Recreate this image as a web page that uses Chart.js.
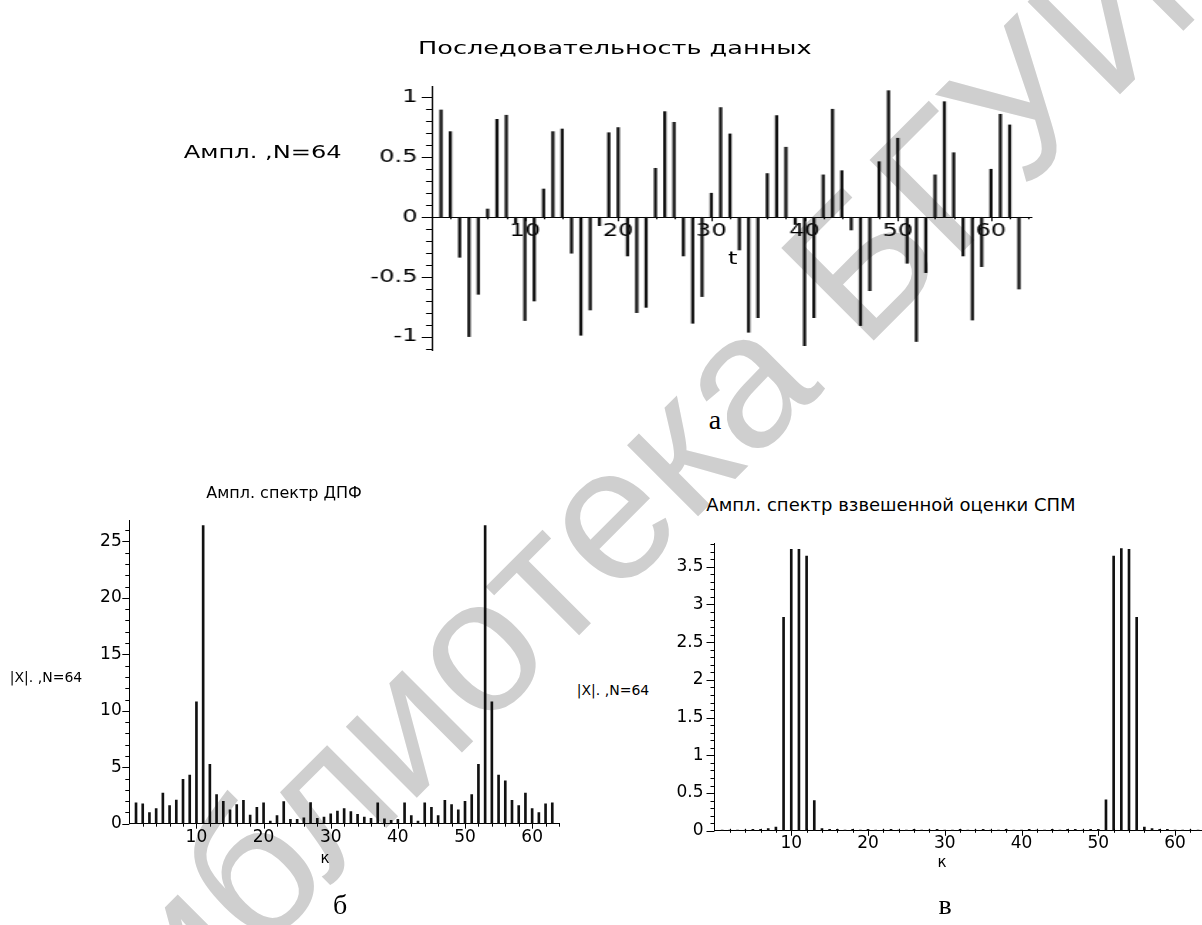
<!DOCTYPE html>
<html>
<head>
<meta charset="utf-8">
<script src="https://cdn.jsdelivr.net/npm/chart.js@4.4.1/dist/chart.umd.min.js"></script>
<style>
  html, body { margin: 0; padding: 0; background: #fff; width: 1202px; height: 925px; overflow: hidden; }
  #page { position: relative; width: 1202px; height: 925px; overflow: hidden; }
  canvas { position: absolute; }
  .c { position: absolute; transform: translate(-50%, -50%); white-space: nowrap; line-height: 1;
       font-family: "DejaVu Sans", sans-serif; color: #000; }
  .cap { font-family: "Liberation Serif", serif; font-size: 28px; }
  #wm { position: absolute; left: 654px; top: 467px; transform: translate(-50%, -50%) rotate(-45deg);
        font: 190px "Liberation Sans", sans-serif; color: #cfcfcf; line-height: 1; white-space: nowrap; }
  /* the top plot is horizontally stretched in the original scan */
  #top { position: absolute; left: 0; top: 0; width: 847px; height: 380px;
         transform: scaleX(1.42); transform-origin: 0 0; }
</style>
</head>
<body>
<div id="page">
  <div id="wm">библиотека БГУИР</div>

  <div id="top">
    <canvas id="seq" width="540" height="308" style="left:204px;top:64px"></canvas>
    <div class="c" style="left:433px;top:48px;font-size:18px">Последовательность данных</div>
    <div class="c" style="left:185px;top:152px;font-size:17px">Ампл. ,N=64</div>
    <div class="c" style="left:516px;top:258px;font-size:17px">t</div>
  </div>
  <div class="c cap" style="left:715px;top:420px">а</div>

  <canvas id="dft" width="520" height="364" style="left:50px;top:496px"></canvas>
  <div class="c" style="left:284px;top:493px;font-size:16px">Ампл. спектр ДПФ</div>
  <div class="c" style="left:46px;top:677px;font-size:14px">|X|. ,N=64</div>
  <div class="c" style="left:325px;top:858px;font-size:15px">к</div>
  <div class="c cap" style="left:340px;top:905px">б</div>

  <canvas id="psd" width="570" height="346" style="left:650px;top:519px"></canvas>
  <div class="c" style="left:891px;top:505px;font-size:18px">Ампл. спектр взвешенной оценки СПМ</div>
  <div class="c" style="left:613px;top:690px;font-size:14px">|X|. ,N=64</div>
  <div class="c" style="left:942px;top:862px;font-size:15px">к</div>
  <div class="c cap" style="left:945px;top:905px">в</div>
</div>

<script>
// sample / bin index
const tIdx = [1, 2, 3, 4, 5, 6, 7, 8, 9, 10, 11, 12, 13, 14, 15, 16, 17, 18, 19, 20,
  21, 22, 23, 24, 25, 26, 27, 28, 29, 30, 31, 32, 33, 34, 35, 36, 37, 38, 39, 40,
  41, 42, 43, 44, 45, 46, 47, 48, 49, 50, 51, 52, 53, 54, 55, 56, 57, 58, 59, 60,
  61, 62, 63]
const kIdx = tIdx

// data sequence, N=64
const seqValues = [
  0.896, 0.715, -0.334, -0.996, -0.643, 0.069, 0.818, 0.852, -0.05, -0.862,
  -0.699, 0.236, 0.715, 0.737, -0.300, -0.985, -0.774, -0.07, 0.706, 0.749,
  -0.323, -0.796, -0.752, 0.409, 0.882, 0.793, -0.323, -0.885, -0.662, 0.201,
  0.916, 0.696, -0.273, -0.960, -0.838, 0.365, 0.849, 0.585, -0.06, -1.072,
  -0.838, 0.354, 0.902, 0.389, -0.106, -0.904, -0.613, 0.464, 1.057, 0.660,
  -0.384, -1.037, -0.462, 0.354, 0.965, 0.539, -0.323, -0.858, -0.412, 0.401,
  0.860, 0.771, -0.599
]

// |X| of the DFT
const dftValues = [
  1.84, 1.75, 0.99, 1.34, 2.71, 1.60, 2.10, 3.94, 4.31, 10.8,
  26.4, 5.25, 2.57, 1.98, 1.22, 1.69, 2.07, 0.76, 1.46, 1.84,
  0.23, 0.73, 1.95, 0.38, 0.38, 0.52, 1.87, 0.47, 0.58, 0.87,
  1.11, 1.34, 1.08, 0.82, 0.58, 0.47, 1.84, 0.44, 0.29, 0.38,
  1.84, 0.73, 0.23, 1.84, 1.46, 0.73, 2.07, 1.69, 1.22, 1.98,
  2.57, 5.25, 26.4, 10.8, 4.31, 3.79, 2.07, 1.60, 2.71, 1.34,
  0.99, 1.75, 1.84
]

// weighted PSD estimate
const psdValues = [
  0.01, 0.01, 0.01, 0.01, 0.02, 0.02, 0.03, 0.05, 2.83, 3.73,
  3.73, 3.64, 0.40, 0.03, 0.02, 0.02, 0.01, 0.02, 0.01, 0.02,
  0.01, 0.01, 0.02, 0.01, 0.01, 0.02, 0.01, 0.01, 0.02, 0.01,
  0.01, 0.02, 0.01, 0.01, 0.02, 0.01, 0.01, 0.02, 0.01, 0.01,
  0.02, 0.01, 0.01, 0.02, 0.01, 0.02, 0.02, 0.01, 0.02, 0.02,
  0.41, 3.64, 3.74, 3.73, 2.83, 0.05, 0.03, 0.02, 0.02, 0.01,
  0.01, 0.01, 0.01
]

const xTicks = [10, 20, 30, 40, 50, 60]
const seqYTicks = [-1, -0.5, 0, 0.5, 1]
const dftYTicks = [0, 5, 10, 15, 20, 25]
const psdYTicks = [0, 0.5, 1, 1.5, 2, 2.5, 3, 3.5]

// maple style tick marks: long/short marks on both axes, axes crossing at origin
const stemAxes = {
  id: 'stemAxes',
  afterDraw(chart, args, o) {
    const { ctx, scales: { x, y } } = chart
    const x0 = x.getPixelForValue(0)
    const y0 = y.getPixelForValue(0)
    ctx.save()
    ctx.strokeStyle = '#000'
    ctx.lineWidth = 1
    ctx.beginPath()
    for (let i = Math.ceil(y.min / o.yMinor - 1e-6); i * o.yMinor <= y.max + 1e-9; i++) {
      const v = i * o.yMinor
      const r = v / o.yMajor
      const major = Math.abs(r - Math.round(r)) < 1e-6
      const py = Math.round(y.getPixelForValue(v)) + 0.5
      ctx.moveTo(x0 - (major ? o.yLong : o.yShort), py)
      ctx.lineTo(x0, py)
    }
    for (let i = 1; i * o.xMinor <= x.max; i++) {
      const v = i * o.xMinor
      const major = v % o.xMajor === 0
      const px = Math.round(x.getPixelForValue(v)) + 0.5
      ctx.moveTo(px, y0 - (major ? 0 : o.xUp))
      ctx.lineTo(px, y0 + (major ? o.xLong : o.xDown))
    }
    ctx.stroke()
    ctx.restore()
  }
}

function stemChart(id, xs, ys, o) {
  const font = { family: 'DejaVu Sans', size: o.font }
  return new Chart(document.getElementById(id), {
    type: 'bar',
    data: {
      datasets: [{
        data: xs.map((x, i) => ({ x, y: ys[i] })),
        backgroundColor: '#111',
        borderWidth: 0,
        barThickness: o.bar,
      }]
    },
    options: {
      responsive: false,
      animation: false,
      layout: { padding: o.pad },
      plugins: {
        legend: { display: false },
        tooltip: { enabled: false },
        stemAxes: o.marks,
      },
      scales: {
        x: {
          type: 'linear',
          position: { y: 0 },
          min: 0,
          max: o.xMax,
          offset: false,
          grid: { display: false, drawTicks: false },
          border: { color: '#000', width: 1 },
          afterBuildTicks: s => { s.ticks = xTicks.map(v => ({ value: v })) },
          ticks: { color: '#000', font, padding: o.xPad, autoSkip: false, maxRotation: 0, callback: v => String(v) },
        },
        y: {
          min: o.yMin,
          max: o.yMax,
          grid: { display: false, drawTicks: false },
          border: { color: '#000', width: 1 },
          afterBuildTicks: s => { s.ticks = o.yTicks.map(v => ({ value: v })) },
          afterFit: s => { s.width = o.yWidth },
          ticks: { color: '#000', font, padding: o.yPad, callback: v => String(v) },
        }
      }
    },
    plugins: [stemAxes]
  })
}

stemChart('seq', tIdx, seqValues, {
  bar: 1.6, font: 17, xMax: 64.3, yMin: -1.108, yMax: 1.096, yTicks: seqYTicks,
  yWidth: 100, xPad: 4, yPad: 10,
  pad: { top: 22, right: 17.9, bottom: 22, left: 0 },
  marks: { yMinor: 0.1, yMajor: 0.5, yLong: 7, yShort: 4, xMinor: 2, xMajor: 10, xUp: 0, xDown: 2, xLong: 4 },
})

stemChart('dft', kIdx, dftValues, {
  bar: 2, font: 17, xMax: 64, yMin: 0, yMax: 26.9, yTicks: dftYTicks,
  yWidth: 79.3, xPad: 3.6, yPad: 7.6,
  pad: { top: 24, right: 11, bottom: 36.3, left: 0 },
  marks: { yMinor: 1, yMajor: 5, yLong: 7, yShort: 4, xMinor: 2, xMajor: 10, xUp: 0, xDown: 3, xLong: 5 },
})

stemChart('psd', kIdx, psdValues, {
  bar: 2, font: 17, xMax: 64.5, yMin: 0, yMax: 3.81, yTicks: psdYTicks,
  yWidth: 64.5, xPad: 3, yPad: 11,
  pad: { top: 24.3, right: 10.4, bottom: 34.2, left: 0 },
  marks: { yMinor: 0.1, yMajor: 0.5, yLong: 8, yShort: 4, xMinor: 2, xMajor: 10, xUp: 2, xDown: 2, xLong: 5 },
})
</script>
</body>
</html>
